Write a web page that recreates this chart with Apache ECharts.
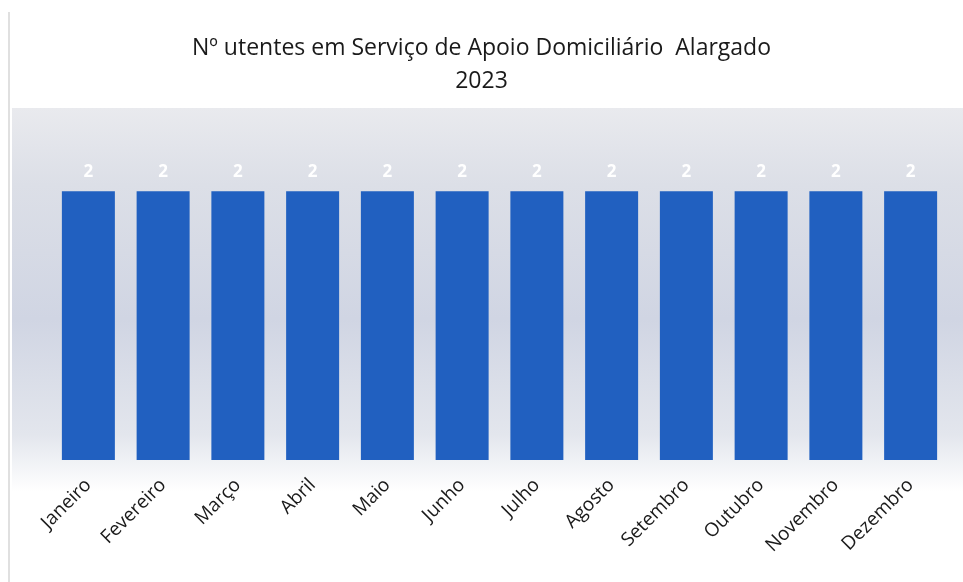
<!DOCTYPE html>
<html>
	<head>
		<meta charset="utf-8">
		<script src="https://cdn.jsdelivr.net/npm/echarts@6/dist/echarts.min.js"></script>
	</head>
	<body style="margin:0;background:#ffffff;">
		<div id="main" style="width:963px;height:582px;"></div>
		<script>
			var titulo = 'Nº utentes em Serviço de Apoio Domiciliário  Alargado\n2023';
			var meses = ['Janeiro','Fevereiro','Março','Abril','Maio','Junho','Julho','Agosto','Setembro','Outubro','Novembro','Dezembro'];
			var utentes = [2, 2, 2, 2, 2, 2, 2, 2, 2, 2, 2, 2];

			var option = {
				backgroundColor: '#ffffff',
				title: {
					text: titulo,
					left: 'center',
					top: 27,
					textStyle: {
						fontFamily: 'Open Sans',
						fontSize: 23,
						fontWeight: 'normal',
						color: '#1a1a1a',
						lineHeight: 33
					}
				},
				graphic: [
					{
						type: 'rect',
						z: -10,
						silent: true,
						shape: {x: 12, y: 108, width: 951, height: 384},
						style: {
							fill: new echarts.graphic.LinearGradient(0, 0, 0, 1, [
								{offset: 0, color: '#e9eaee'},
								{offset: 0.2, color: '#dcdfe7'},
								{offset: 0.55, color: '#d0d5e3'},
								{offset: 0.85, color: '#e3e6ed'},
								{offset: 1, color: '#ffffff'}
							])
						}
					},
					{
						type: 'line',
						z: -5,
						silent: true,
						shape: {x1: 9, y1: 12, x2: 9, y2: 582},
						style: {stroke: '#d6d6d6', lineWidth: 1.5}
					}
				],
				grid: {
					left: 51,
					right: 15,
					top: 124,
					bottom: 122
				},
				xAxis: {
					type: 'category',
					data: meses,
					axisLine: {show: false},
					axisTick: {show: false},
					axisLabel: {
						rotate: 45,
						interval: 0,
						margin: 22,
						fontFamily: 'Open Sans',
						fontSize: 19,
						color: '#1a1a1a'
					}
				},
				yAxis: {
					type: 'value',
					min: 0,
					max: 2.5,
					show: false,
					splitLine: {show: false}
				},
				series: [
					{
						type: 'bar',
						data: utentes,
						barWidth: 53,
						itemStyle: {
							color: '#2160c0'
						},
						label: {
							show: true,
							position: 'top',
							distance: 11,
							color: '#ffffff',
							fontFamily: 'Open Sans',
							fontWeight: 'bold',
							fontSize: 17
						}
					}
				]
			};
			var myChart = echarts.init(document.getElementById('main'));
			myChart.setOption(option, true);
		</script>
	</body>
</html>
